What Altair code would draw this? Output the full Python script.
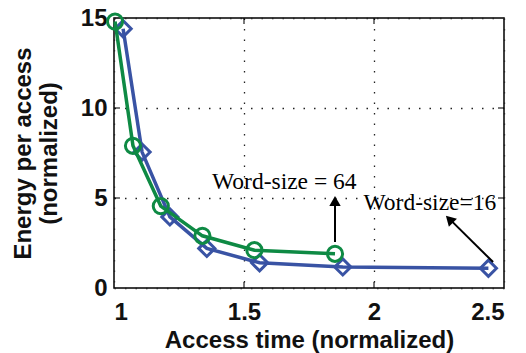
import altair as alt
import pandas as pd

# Word-size = 16 series (blue diamonds)
x16 = [1.035, 1.108, 1.215, 1.357, 1.56, 1.88, 2.44]
y16 = [14.4, 7.55, 3.95, 2.2, 1.4, 1.17, 1.1]
# Word-size = 64 series (green circles)
x64 = [1.004, 1.073, 1.18, 1.34, 1.54, 1.85]
y64 = [14.8, 7.9, 4.55, 2.9, 2.1, 1.9]

# annotations
label_text = ["Word-size = 64", "Word-size=16"]
label_x = [1.655, 2.215]
label_y = [5.9, 4.72]
arrow_x = [1.85, 2.458]
arrow_y = [2.55, 1.44]
arrow_x2 = [1.85, 2.29]
arrow_y2 = [4.85, 3.84]
head_x = [1.85, 2.29]
head_y = [4.83, 3.82]
head_angle = [0, 315]

x_ticks = [1, 1.5, 2, 2.5]
y_ticks = [0, 5, 10, 15]
x_inner_ticks = [1.5, 2]
y_inner_ticks = [5, 10]

BLUE = "#3953A4"
GREEN = "#0E8A44"

d16 = pd.DataFrame({"x": x16, "y": y16})
d64 = pd.DataFrame({"x": x64, "y": y64})
dl = pd.DataFrame({"t": label_text, "x": label_x, "y": label_y})
da = pd.DataFrame({"x": arrow_x, "y": arrow_y, "x2": arrow_x2, "y2": arrow_y2,
                   "hx": head_x, "hy": head_y, "a": head_angle})
dxt = pd.DataFrame({"x": x_inner_ticks})
dyt = pd.DataFrame({"y": y_inner_ticks})

xs = alt.Scale(domain=[1, 2.5], nice=False, zero=False)
ys = alt.Scale(domain=[0, 15], nice=False, zero=False)

xax = alt.Axis(values=x_ticks, format="~g", title="Access time (normalized)",
               grid=True, ticks=False, domain=False)
yax = alt.Axis(values=y_ticks, format="~g", title=["Energy per access", "(normalized)"],
               grid=True, ticks=False, domain=False)

X = alt.X("x:Q", scale=xs, axis=xax)
Y = alt.Y("y:Q", scale=ys, axis=yax)

line16 = alt.Chart(d16).mark_line(color=BLUE, strokeWidth=3.5).encode(x=X, y=Y)
pts16 = alt.Chart(d16).mark_point(shape="diamond", color=BLUE, filled=False, opacity=1,
                                  strokeWidth=3, size=260).encode(x=X, y=Y)
line64 = alt.Chart(d64).mark_line(color=GREEN, strokeWidth=3.5).encode(x=X, y=Y)
pts64 = alt.Chart(d64).mark_point(shape="circle", color=GREEN, filled=False, opacity=1,
                                  strokeWidth=3, size=230).encode(x=X, y=Y)

rules = alt.Chart(da).mark_rule(color="black", strokeWidth=2).encode(
    x=alt.X("x:Q", scale=xs), y=alt.Y("y:Q", scale=ys), x2="x2:Q", y2="y2:Q")
heads = alt.Chart(da).mark_point(shape="triangle-up", filled=True, color="black",
                                 size=130, opacity=1).encode(
    x=alt.X("hx:Q", scale=xs), y=alt.Y("hy:Q", scale=ys), angle=alt.Angle("a:Q", scale=None))

texts = alt.Chart(dl).mark_text(font="Liberation Serif", fontSize=23.5, color="black",
                                align="center", baseline="middle").encode(
    x=alt.X("x:Q", scale=xs), y=alt.Y("y:Q", scale=ys), text="t:N")

# inward tick marks on all four sides
tk_bottom = alt.Chart(dxt).mark_tick(orient="vertical", color="black", size=6,
                                     thickness=1.5, yOffset=-3).encode(
    x=alt.X("x:Q", scale=xs), y=alt.value(270))
tk_top = alt.Chart(dxt).mark_tick(orient="vertical", color="black", size=6,
                                  thickness=1.5, yOffset=3).encode(
    x=alt.X("x:Q", scale=xs), y=alt.value(0))
tk_left = alt.Chart(dyt).mark_tick(orient="horizontal", color="black", size=6,
                                   thickness=1.5, xOffset=3).encode(
    y=alt.Y("y:Q", scale=ys), x=alt.value(0))
tk_right = alt.Chart(dyt).mark_tick(orient="horizontal", color="black", size=6,
                                    thickness=1.5, xOffset=-3).encode(
    y=alt.Y("y:Q", scale=ys), x=alt.value(390))

chart = alt.layer(line16, pts16, line64, pts64, rules, heads, texts,
                  tk_bottom, tk_top, tk_left, tk_right).properties(
    width=390, height=270,
    background="white",
    autosize=alt.AutoSizeParams(type="none"),
    padding={"left": 114, "top": 18, "right": 22, "bottom": 65},
).configure_view(
    stroke="black", strokeWidth=1.5
).configure_axis(
    labelFont="Liberation Sans", labelFontSize=24, labelFontWeight="bold", labelColor="#111",
    titleFont="Liberation Sans", titleFontSize=24, titleFontWeight="bold", titleColor="#111",
    gridColor="#222", gridDash=[1.5, 9], gridWidth=1.3, gridOpacity=1,
).configure_axisX(
    labelPadding=12, titlePadding=4
).configure_axisY(
    labelPadding=7, titlePadding=19
)

chart.save("out.html", embed_options={"renderer": "svg", "actions": False})
